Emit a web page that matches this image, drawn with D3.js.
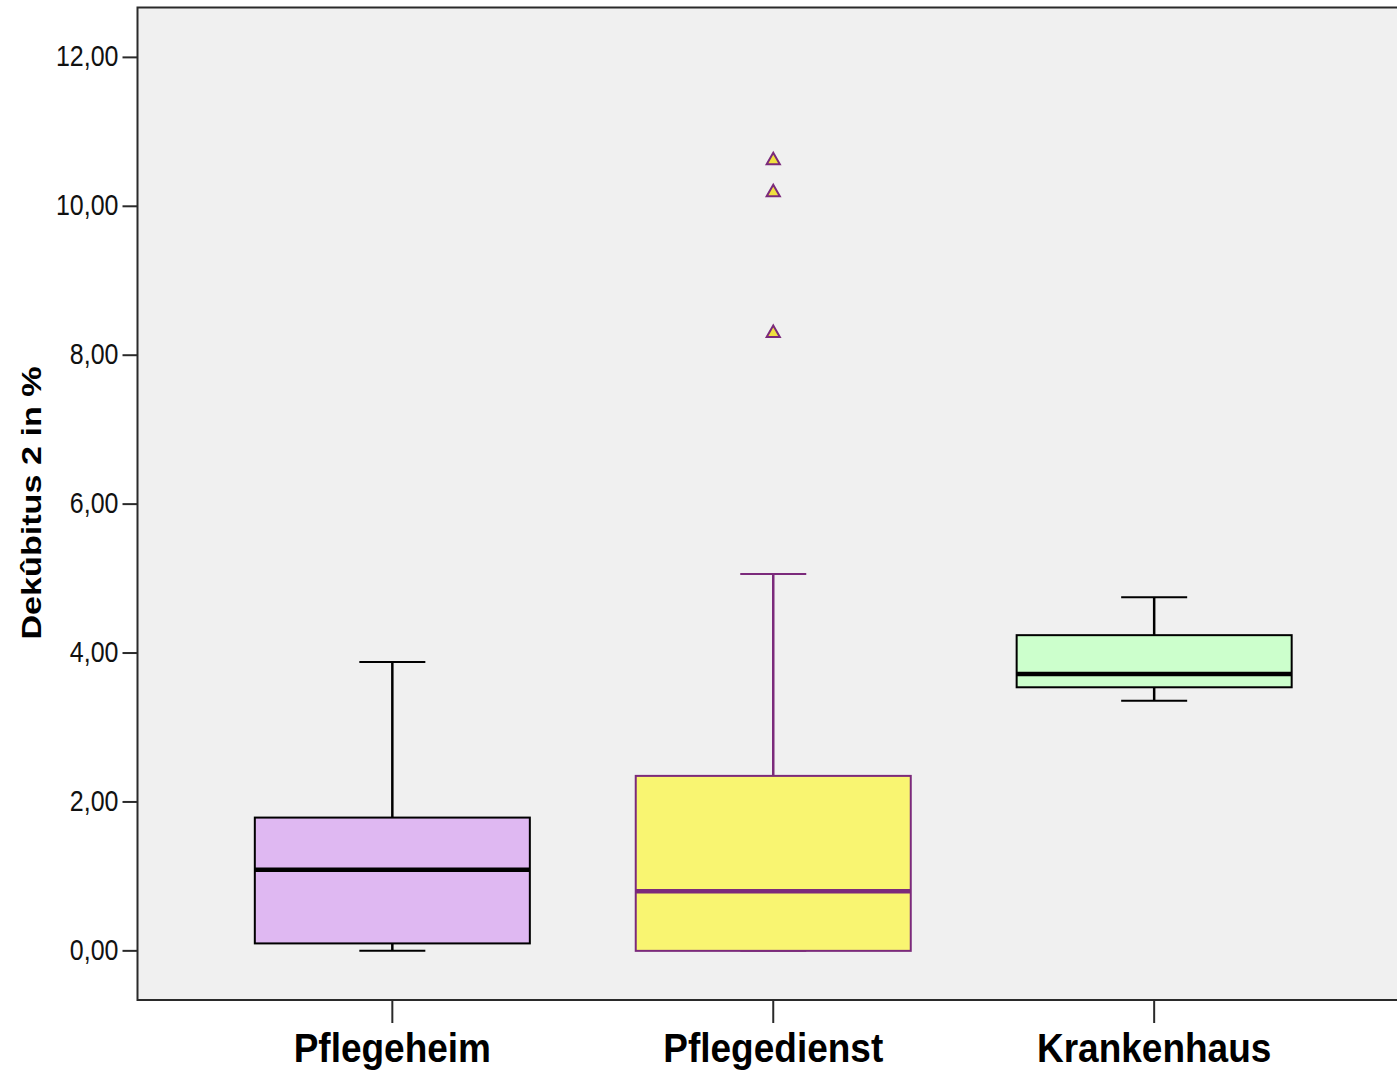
<!DOCTYPE html>
<html>
<head>
<meta charset="utf-8">
<script src="https://cdn.jsdelivr.net/npm/d3@7"></script>
<style>
  html, body { margin: 0; padding: 0; background: #ffffff; }
  svg { display: block; }
</style>
</head>
<body>
<svg id="chart" width="1397" height="1072"></svg>
<script>
// ---- data ----
const categories = ["Pflegeheim", "Pflegedienst", "Krankenhaus"];
const whiskerLow  = [0.00, 0.00, 3.36];
const q1          = [0.10, 0.00, 3.54];
const median      = [1.09, 0.80, 3.72];
const q3          = [1.79, 2.35, 4.24];
const whiskerHigh = [3.88, 5.06, 4.75];
const outliers    = [[], [8.31, 10.20, 10.63], []];
const yTicks      = [0, 2, 4, 6, 8, 10, 12];
const yLabel      = "Dekûbitus 2 in %";

// ---- style ----
const fills   = ["#dfb8f2", "#f9f571", "#ccffcc"];
const strokes = ["#000000", "#7b2a7b", "#000000"];

const svg = d3.select("#chart");
const plot = { left: 137.5, top: 7.5, bottom: 1000, right: 1409 };

const y = d3.scaleLinear().domain([-0.66, 12.67]).range([plot.bottom, plot.top]);
const x = d3.scalePoint().domain(categories).range([plot.left, plot.right]).padding(0.669);
const step = x.step();
const boxW = step * 0.722;
const capW = boxW * 0.24;

// background
svg.append("rect")
  .attr("x", plot.left).attr("y", plot.top)
  .attr("width", plot.right - plot.left).attr("height", plot.bottom - plot.top)
  .attr("fill", "#f0f0f0");

// frame
svg.append("path")
  .attr("d", `M${plot.right},${plot.top}H${plot.left}V${plot.bottom}H${plot.right}`)
  .attr("fill", "none").attr("stroke", "#2a2a2a").attr("stroke-width", 2);

// y axis ticks + labels
const yAxis = svg.append("g");
yTicks.forEach(t => {
  yAxis.append("line")
    .attr("x1", plot.left - 15).attr("x2", plot.left)
    .attr("y1", y(t)).attr("y2", y(t))
    .attr("stroke", "#2a2a2a").attr("stroke-width", 2);
  yAxis.append("text")
    .attr("transform", `translate(${plot.left - 19},${y(t) + 9}) scale(1,1.15)`)
    .attr("text-anchor", "end")
    .attr("font-family", "'Liberation Sans', Arial, sans-serif")
    .attr("font-size", 25)
    .attr("fill", "#111")
    .text(d3.format(".2f")(t).replace(".", ","));
});

// y label
svg.append("text")
  .attr("transform", `translate(41,503) rotate(-90) scale(1.22,1)`)
  .attr("text-anchor", "middle")
  .attr("font-family", "'Liberation Sans', Arial, sans-serif")
  .attr("font-weight", "bold")
  .attr("font-size", 28)
  .attr("fill", "#000")
  .text(yLabel);

// x ticks + labels
categories.forEach(c => {
  svg.append("line")
    .attr("x1", x(c)).attr("x2", x(c))
    .attr("y1", plot.bottom).attr("y2", plot.bottom + 23)
    .attr("stroke", "#2a2a2a").attr("stroke-width", 2);
  svg.append("text")
    .attr("transform", `translate(${x(c)},1062) scale(1,1.08)`)
    .attr("text-anchor", "middle")
    .attr("font-family", "'Liberation Sans', Arial, sans-serif")
    .attr("font-weight", "bold")
    .attr("font-size", 37)
    .attr("fill", "#000")
    .text(c);
});

// boxes
categories.forEach((c, i) => {
  const cx = x(c);
  const g = svg.append("g");
  const st = strokes[i];
  // whiskers
  g.append("line").attr("x1", cx).attr("x2", cx)
    .attr("y1", y(q3[i])).attr("y2", y(whiskerHigh[i]))
    .attr("stroke", st).attr("stroke-width", 2.5);
  g.append("line").attr("x1", cx).attr("x2", cx)
    .attr("y1", y(q1[i])).attr("y2", y(whiskerLow[i]))
    .attr("stroke", st).attr("stroke-width", 2.5);
  g.append("line").attr("x1", cx - capW / 2).attr("x2", cx + capW / 2)
    .attr("y1", y(whiskerHigh[i])).attr("y2", y(whiskerHigh[i]))
    .attr("stroke", st).attr("stroke-width", 2);
  g.append("line").attr("x1", cx - capW / 2).attr("x2", cx + capW / 2)
    .attr("y1", y(whiskerLow[i])).attr("y2", y(whiskerLow[i]))
    .attr("stroke", st).attr("stroke-width", 2);
  // box
  g.append("rect")
    .attr("x", cx - boxW / 2).attr("width", boxW)
    .attr("y", y(q3[i])).attr("height", y(q1[i]) - y(q3[i]))
    .attr("fill", fills[i]).attr("stroke", st).attr("stroke-width", 2);
  // median
  g.append("line").attr("x1", cx - boxW / 2).attr("x2", cx + boxW / 2)
    .attr("y1", y(median[i])).attr("y2", y(median[i]))
    .attr("stroke", st).attr("stroke-width", 4.5);
  // outliers
  const tri = d3.symbol().type(d3.symbolTriangle).size(75);
  outliers[i].forEach(v => {
    g.append("path")
      .attr("d", tri())
      .attr("transform", `translate(${cx},${y(v) + 1})`)
      .attr("fill", "#f0e040").attr("stroke", st).attr("stroke-width", 2);
  });
});
</script>
</body>
</html>
